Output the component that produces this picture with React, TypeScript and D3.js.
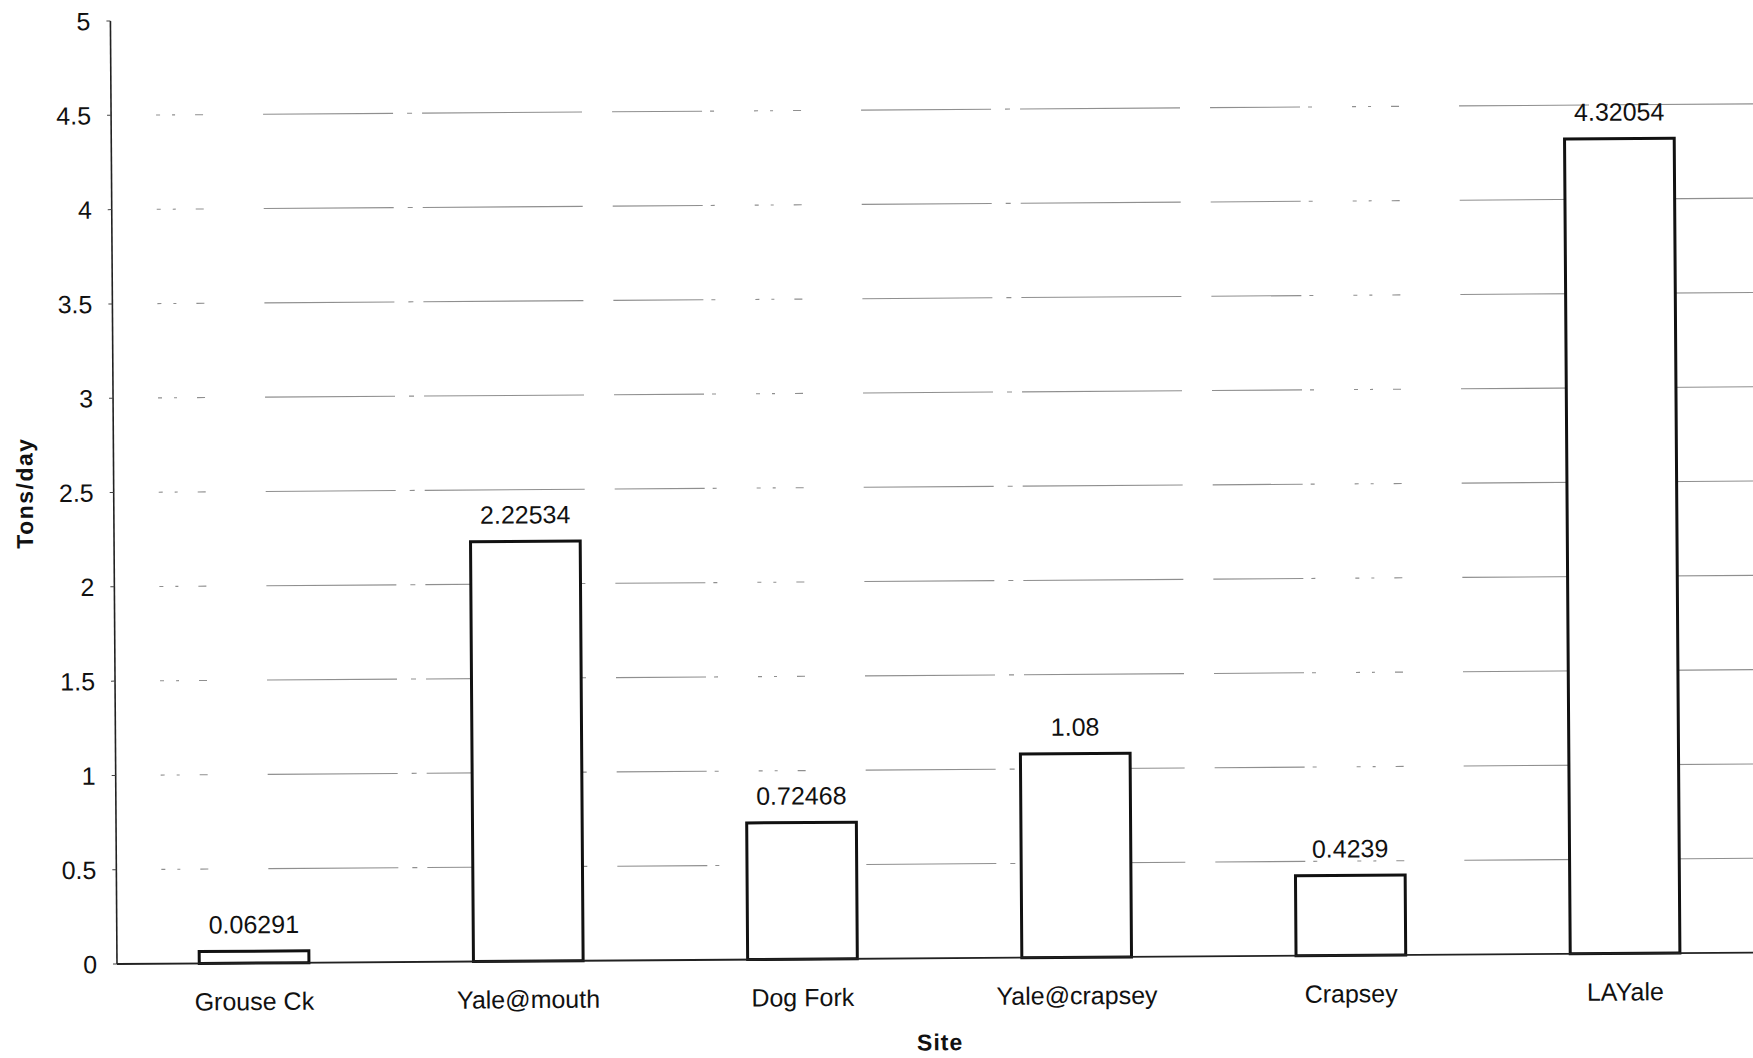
import React from "react";
import * as d3 from "d3";

const sites = ["Grouse Ck", "Yale@mouth", "Dog Fork", "Yale@crapsey", "Crapsey", "LAYale"];
const values = [0.06291, 2.22534, 0.72468, 1.08, 0.4239, 4.32054];
const valueLabels = ["0.06291", "2.22534", "0.72468", "1.08", "0.4239", "4.32054"];
const yTicks = [0, 0.5, 1, 1.5, 2, 2.5, 3, 3.5, 4, 4.5, 5];
const yTickLabels = ["0", "0.5", "1", "1.5", "2", "2.5", "3", "3.5", "4", "4.5", "5"];
const gridValues = [0.5, 1, 1.5, 2, 2.5, 3, 3.5, 4, 4.5];

const W = 1753;
const H = 1058;
const X0 = 117;
const Y0 = 964;
const BAND = 274.2;
const PLOT_W = BAND * sites.length;
const PLOT_H = 943;
const FONT = "'Liberation Sans', Arial, Helvetica, sans-serif";

export default function App() {
  const x = d3
    .scaleBand<string>()
    .domain(sites)
    .range([X0, X0 + PLOT_W])
    .paddingInner(0.6)
    .paddingOuter(0.3);
  const y = d3.scaleLinear().domain([0, 5]).range([Y0, Y0 - PLOT_H]);

  return (
    <svg
      width={W}
      height={H}
      style={{ position: "absolute", left: 0, top: 0, background: "#fff" }}
      fontFamily={FONT}
    >
      <rect x={0} y={0} width={W} height={H} fill="#fff" />
      <g transform={`rotate(-0.4 ${X0} ${Y0})`}>
        {/* gridlines */}
        {gridValues.map((v) => (
          <line
            key={"g" + v}
            x1={X0 + 45}
            x2={X0 + PLOT_W}
            y1={y(v)}
            y2={y(v)}
            stroke="#8f8f8f"
            strokeWidth={1.1}
            strokeDasharray="4 12 3 20 8 60 130 14 5 10 160 30 90 8 4 40"
          />
        ))}
        {/* y axis */}
        <line x1={X0} x2={X0} y1={y(5)} y2={Y0} stroke="#222" strokeWidth={1.6} />
        {yTicks.map((v, i) => (
          <g key={"t" + v}>
            <line x1={X0 - 4} x2={X0} y1={y(v)} y2={y(v)} stroke="#444" strokeWidth={1} />
            <text
              x={X0 - 20}
              y={y(v)}
              dy="0.36em"
              textAnchor="end"
              fontSize={25}
              fill="#111"
            >
              {yTickLabels[i]}
            </text>
          </g>
        ))}
        {/* bars */}
        {sites.map((s, i) => (
          <rect
            key={"b" + s}
            x={x(s)}
            y={y(values[i])}
            width={x.bandwidth()}
            height={Y0 - y(values[i])}
            fill="#fff"
            stroke="#111"
            strokeWidth={3}
          />
        ))}
        {/* x axis */}
        <line x1={X0} x2={X0 + PLOT_W} y1={Y0} y2={Y0} stroke="#222" strokeWidth={1.8} />
        {/* value labels */}
        {sites.map((s, i) => (
          <text
            key={"v" + s}
            x={(x(s) as number) + x.bandwidth() / 2}
            y={y(values[i]) - 18}
            textAnchor="middle"
            fontSize={25}
            fill="#111"
          >
            {valueLabels[i]}
          </text>
        ))}
        {/* category labels */}
        {sites.map((s) => (
          <text
            key={"c" + s}
            x={(x(s) as number) + x.bandwidth() / 2}
            y={Y0 + 47}
            textAnchor="middle"
            fontSize={25}
            fill="#111"
          >
            {s}
          </text>
        ))}
        {/* axis titles */}
        <text
          x={X0 + 3 * BAND}
          y={Y0 + 92}
          textAnchor="middle"
          fontSize={23}
          fontWeight="bold"
          letterSpacing={1}
          fill="#111"
        >
          Site
        </text>
        <text
          transform={`translate(36, ${(y(0) + y(5)) / 2}) rotate(-90)`}
          textAnchor="middle"
          fontSize={23}
          fontWeight="bold"
          letterSpacing={1.5}
          fill="#111"
        >
          Tons/day
        </text>
      </g>
    </svg>
  );
}
